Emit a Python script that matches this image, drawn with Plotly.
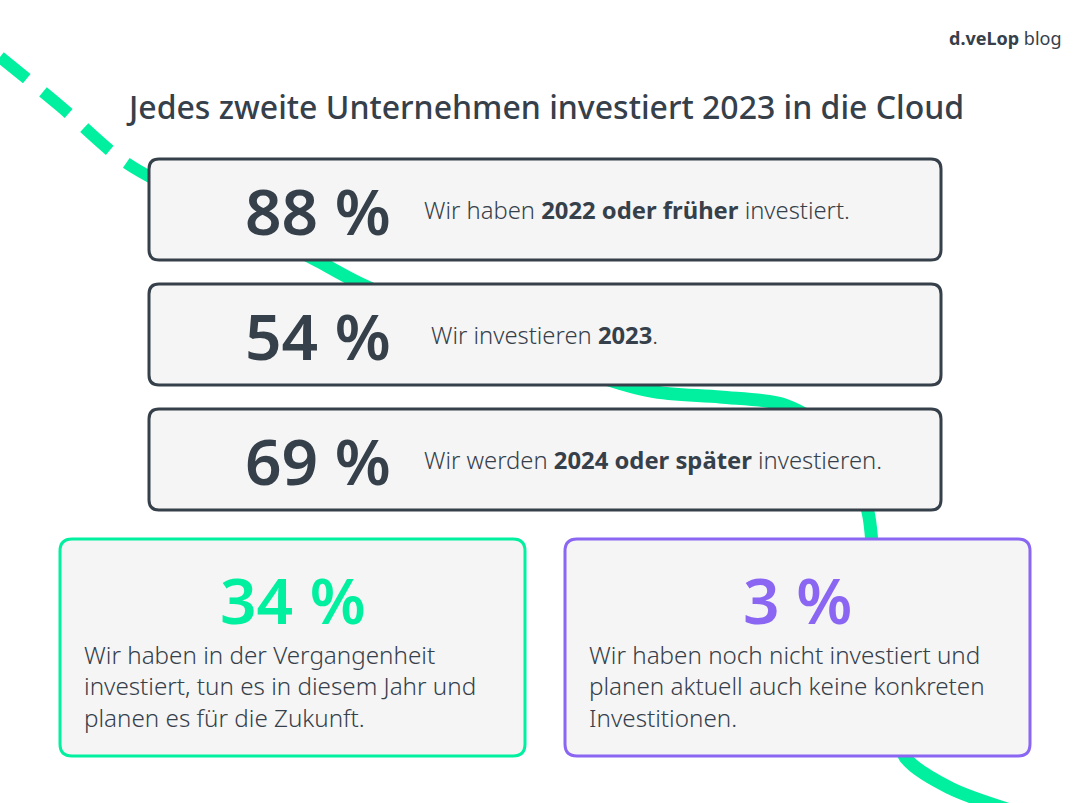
import plotly.graph_objects as go

# ---- data ----
title = "Jedes zweite Unternehmen investiert 2023 in die Cloud"
top_values = [88, 54, 69]
top_texts = [
    "Wir haben <b>2022 oder früher</b> investiert.",
    "Wir investieren <b>2023</b>.",
    "Wir werden <b>2024 oder später</b> investieren.",
]
bottom_values = [34, 3]
bottom_texts = [
    "Wir haben in der Vergangenheit<br>investiert, tun es in diesem Jahr und<br>planen es für die Zukunft.",
    "Wir haben noch nicht investiert und<br>planen aktuell auch keine konkreten<br>Investitionen.",
]
brand = "<b>d.veLop</b> blog"

# ---- style ----
W, H = 1090, 803
FONT = "Noto Sans"
DARK = "#36404a"
GREEN = "#00f0a0"
PURPLE = "#8a66f2"
FILL = "#f5f5f5"

fig = go.Figure()

# decorative curve (behind boxes)
dash_x = [0, 60, 125, 180]
dash_y = [57, 106, 162, 192]
fig.add_trace(go.Scatter(x=dash_x, y=dash_y, mode="lines",
                         line=dict(color=GREEN, width=12, shape="spline", dash="34px,21px"),
                         hoverinfo="skip", showlegend=False))
curve_x = [175, 250, 318, 359, 500, 650, 720, 785, 840, 868, 874, 886, 905, 950, 1010]
curve_y = [190, 226, 261, 283, 342, 391, 397, 405, 440, 512, 570, 680, 757, 788, 810]
fig.add_trace(go.Scatter(x=curve_x, y=curve_y, mode="lines",
                         line=dict(color=GREEN, width=13, shape="spline", smoothing=0.8),
                         hoverinfo="skip", showlegend=False))


def rrect(x0, y0, x1, y1, r):
    return (f"M {x0+r},{y0} L {x1-r},{y0} Q {x1},{y0} {x1},{y0+r} "
            f"L {x1},{y1-r} Q {x1},{y1} {x1-r},{y1} L {x0+r},{y1} "
            f"Q {x0},{y1} {x0},{y1-r} L {x0},{y0+r} Q {x0},{y0} {x0+r},{y0} Z")


shapes = []
annotations = []

# top three boxes
box_tops = [159, 284, 409]
box_h = 101
for i, (v, t) in enumerate(zip(top_values, top_texts)):
    y0 = box_tops[i]
    y1 = y0 + box_h
    yc = (y0 + y1) / 2
    shapes.append(dict(type="path", path=rrect(149, y0, 941, y1, 10), xref="x", yref="y",
                       fillcolor=FILL, line=dict(color=DARK, width=3), layer="above"))
    annotations.append(dict(x=318, y=yc + 1, xref="x", yref="y", text=f"{v} %", showarrow=False,
                            xanchor="center", yanchor="middle",
                            font=dict(family=FONT, size=64, color=DARK, weight=600)))
    annotations.append(dict(x=422 if i != 1 else 429, y=yc, xref="x", yref="y", text=t,
                            showarrow=False, xanchor="left", yanchor="middle",
                            font=dict(family=FONT, size=23.8, color=DARK, weight=300)))

# bottom boxes
bx = [(60, 525), (565, 1030)]
bcol = [GREEN, PURPLE]
for i, (v, t) in enumerate(zip(bottom_values, bottom_texts)):
    x0, x1 = bx[i]
    shapes.append(dict(type="path", path=rrect(x0, 539, x1, 756, 12), xref="x", yref="y",
                       fillcolor=FILL, line=dict(color=bcol[i], width=3), layer="above"))
    annotations.append(dict(x=(x0 + x1) / 2, y=599, xref="x", yref="y", text=f"{v} %",
                            showarrow=False, xanchor="center", yanchor="middle",
                            font=dict(family=FONT, size=64, color=bcol[i], weight=600)))
    annotations.append(dict(x=x0 + 22, y=686, xref="x", yref="y", text=t, showarrow=False,
                            xanchor="left", yanchor="middle", align="left",
                            font=dict(family=FONT, size=24.2, color=DARK, weight=300)))

# title and brand
annotations.append(dict(x=545, y=106, xref="x", yref="y", text=title, showarrow=False,
                        xanchor="center", yanchor="middle",
                        font=dict(family=FONT, size=32, color=DARK, weight=500)))
annotations.append(dict(x=1064, y=38, xref="x", yref="y", text=brand, showarrow=False,
                        xanchor="right", yanchor="middle",
                        font=dict(family=FONT, size=18, color=DARK)))

fig.update_layout(
    width=W, height=H, margin=dict(l=0, r=0, t=0, b=0),
    paper_bgcolor="white", plot_bgcolor="white",
    xaxis=dict(range=[0, W], visible=False, fixedrange=True),
    yaxis=dict(range=[H, 0], visible=False, fixedrange=True),
    shapes=shapes, annotations=annotations, showlegend=False,
)

fig.write_html("out.html", config={"displayModeBar": False},
               post_script="document.body.style.margin='0';document.body.style.overflow='hidden';")
